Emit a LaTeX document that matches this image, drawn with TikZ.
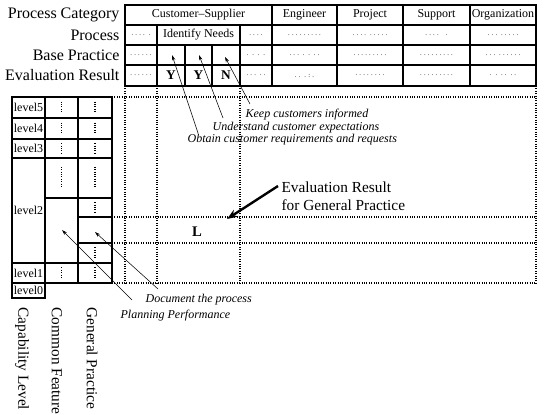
\documentclass[tikz,border=0pt]{standalone}
\usepackage{fontspec}
\setmainfont{Liberation Serif}
\usetikzlibrary{arrows.meta}

\tikzset{
  lbl/.style={anchor=east,inner sep=1pt,font=\fontsize{12}{14}\selectfont},
  hd/.style={inner sep=1pt,font=\fontsize{9}{11}\selectfont},
  dts/.style={inner sep=1pt,font=\fontsize{5}{6}\selectfont},
  res/.style={inner sep=1pt,font=\fontsize{10}{12}\selectfont\bfseries},
  note/.style={anchor=west,inner sep=1pt,font=\fontsize{9}{11}\selectfont\itshape},
  lev/.style={inner sep=1pt,font=\fontsize{9}{11}\selectfont},
  vlab/.style={anchor=west,rotate=-90,inner sep=1pt,font=\fontsize{11.5}{13}\selectfont},
  dotline/.style={densely dotted,thick},
  ptr/.style={-{Stealth[length=4pt,width=2.5pt]},thin},
}

\begin{document}
\begin{tikzpicture}[x=0.75pt,y=-0.75pt]
\useasboundingbox (0,0) rectangle (545,414);

% process table
\draw[thick] (125,5) rectangle (536,86);
\foreach \y in {25,45} \draw[thick] (125,\y) -- (536,\y);
\draw[line width=1.6pt] (125,65) -- (536,65);
\foreach \x in {272,337,403,470} \draw[thick] (\x,5) -- (\x,86);
\foreach \x in {157,240} \draw[thick] (\x,25) -- (\x,86);
\foreach \x in {185,212} \draw[thick] (\x,45) -- (\x,86);

\node[lbl] (pcat) at (121,15) {Process Category};
\node[lbl] (proc) at (121,35) {Process};
\node[lbl] (bprac) at (121,55) {Base Practice};
\node[lbl] (eres) at (121,75.5) {Evaluation Result};

\node[hd] (cs) at (198.5,15) {Customer--Supplier};
\foreach \x/\t [count=\i] in {304.5/Engineer,370/Project,436.5/Support,503/Organization}
  \node[hd] (cat\i) at (\x,15) {\t};
\node[hd] (idn) at (198.5,35) {Identify Needs};
\foreach \x/\t [count=\i] in {171/Y,198.5/Y,226/N}
  \node[res] (r\i) at (\x,75.5) {\t};

\foreach \x/\y/\t [count=\i] in {141/35/{. . . . ~.},256/35/{. . . .},304.5/35/{. . . . . . . . .},370/35/{. . . . ~. . . . .},436.5/35/{. . . . ~~~.},503/35/{. . . ~. . . . .},
  141/55/{. . . . . .},256/55/{. ~. ~. ~.},304.5/55/{. . . ~. ~. ~. .},370/55/{. . . . . . . . .},436.5/55/{. . . . . . . . .},503/55/{. . . ~. . . . . .},
  141/75.5/{. . . . . .},256/75.5/{. . . ~. .},304.5/75.5/{. . ~. : .},370/75.5/{. . . . . . . .},436.5/75.5/{. . . . . . . . .},503/75.5/{. ~. ~. . ~. .}}
  \node[dts] (d\i) at (\x,\y) {\t};

% evaluation grid
\foreach \y in {97,217,243,283} \draw[dotline] (112,\y) -- (536,\y);
\foreach \x in {125,157,240,536} \draw[dotline] (\x,86) -- (\x,283);

% capability levels
\draw[thick] (12,97) rectangle (112,283);
\draw[thick] (12,283) rectangle (45,298);
\foreach \y in {118,139,158,263} \draw[thick] (12,\y) -- (112,\y);
\foreach \x in {45,78} \draw[thick] (\x,97) -- (\x,283);
\draw[thick] (45,198) -- (112,198);
\draw[thick] (78,217) -- (112,217) (78,243) -- (112,243);
\foreach \n/\y in {5/107.5,4/128.5,3/148.5,2/210.5,1/273,0/290.5}
  \node[lev] (lv\n) at (28.5,\y) {level\n};
\foreach \x/\a/\b in {61.5/97/118,61.5/118/139,61.5/139/158,61.5/158/198,61.5/263/283,
  95/97/118,95/118/139,95/139/158,95/158/198,95/198/217,95/243/263,95/263/283}
  \draw[dotline] (\x,{\a+(\b-\a)*0.22}) -- (\x,{\b-(\b-\a)*0.27});

\node[vlab] (caplev) at (22,306) {Capability Level};
\node[vlab] (comfeat) at (57,306) {Common Feature};
\node[vlab] (genprac) at (92,306) {General Practice};

% base practice notes
\node[note] (keep) at (244,115) {Keep customers informed};
\node[note] (under) at (211,128) {Understand customer expectations};
\node[note] (obtain) at (186,140) {Obtain customer requirements and requests};
\coordinate (b1) at (172,55);
\coordinate (b2) at (199,55);
\coordinate (b3) at (225,57);
\coordinate (t1) at (198,133);
\coordinate (t2) at (223,118);
\coordinate (t3) at (250,104);
\draw[ptr] (t1) -- (b1);
\draw[ptr] (t2) -- (b2);
\draw[ptr] (t3) -- (b3);

% general practice result
\node[anchor=west,align=left,inner sep=1pt,font=\fontsize{11.5}{13.5}\selectfont] (egp) at (280,196) {Evaluation Result\\for General Practice};
\node[font=\fontsize{11}{13}\selectfont\bfseries] (lres) at (197,232) {L};
\coordinate (ea) at (278,186);
\coordinate (lpt) at (227,219);
\draw[line width=1.8pt,-{Stealth[length=8pt,width=6pt]}] (ea) -- (lpt);

% common feature / general practice notes
\node[note] (doc) at (144,300) {Document the process};
\node[note] (plan) at (119,316) {Planning Performance};
\coordinate (cf) at (62,230);
\coordinate (gp) at (95,232);
\coordinate (p1) at (132,300);
\coordinate (p2) at (158,289);
\draw[ptr] (p1) -- (cf);
\draw[ptr] (p2) -- (gp);
\end{tikzpicture}
\end{document}
